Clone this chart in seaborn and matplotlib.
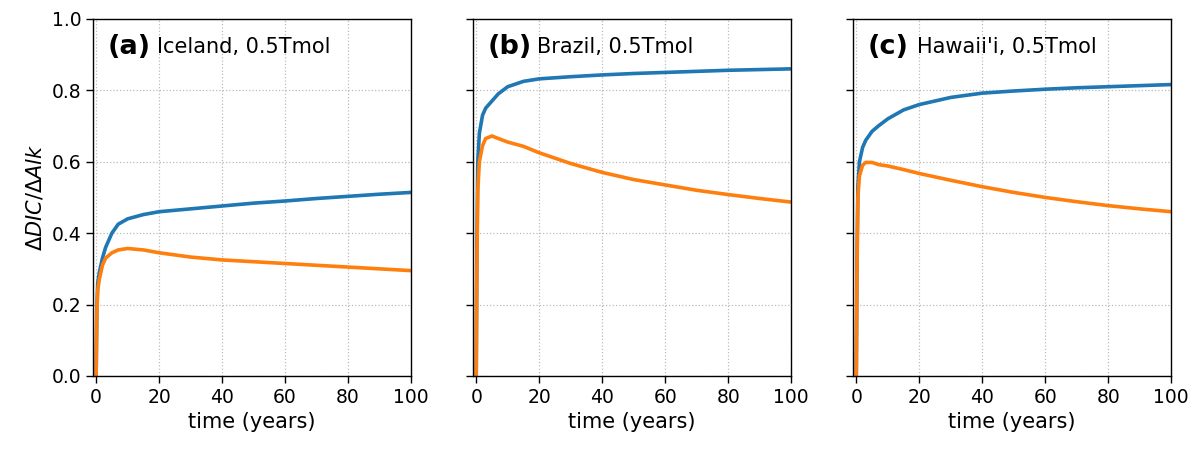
import numpy as np
import pandas as pd
import matplotlib
matplotlib.use("Agg")
import matplotlib.pyplot as plt
import seaborn as sns

# time axis (years), sampled more densely at the start
time = [0, 0.2, 0.5, 1, 2, 3, 5, 7, 10, 15, 20, 30, 40, 50, 60, 70, 80, 90, 100]

iceland_blue = [0, 0.18, 0.26, 0.29, 0.33, 0.36, 0.40, 0.425, 0.44, 0.452, 0.46,
                0.468, 0.476, 0.484, 0.49, 0.497, 0.503, 0.509, 0.514]
iceland_orange = [0, 0.17, 0.24, 0.27, 0.31, 0.33, 0.345, 0.353, 0.357, 0.353, 0.345,
                  0.333, 0.325, 0.32, 0.315, 0.31, 0.305, 0.30, 0.295]

brazil_blue = [0, 0.35, 0.60, 0.68, 0.73, 0.75, 0.77, 0.79, 0.81, 0.825, 0.832,
               0.838, 0.843, 0.847, 0.85, 0.853, 0.856, 0.858, 0.86]
brazil_orange = [0, 0.30, 0.52, 0.60, 0.645, 0.665, 0.672, 0.665, 0.655, 0.643, 0.625,
                 0.595, 0.57, 0.55, 0.535, 0.52, 0.508, 0.497, 0.487]

hawaii_blue = [0, 0.30, 0.53, 0.60, 0.64, 0.66, 0.685, 0.70, 0.72, 0.745, 0.76,
               0.78, 0.792, 0.798, 0.803, 0.807, 0.81, 0.813, 0.816]
hawaii_orange = [0, 0.28, 0.50, 0.56, 0.59, 0.598, 0.598, 0.592, 0.588, 0.578, 0.567,
                 0.548, 0.53, 0.514, 0.50, 0.488, 0.477, 0.468, 0.46]

panel_tags = ["(a)", "(b)", "(c)"]
panel_names = ["Iceland, 0.5Tmol", "Brazil, 0.5Tmol", "Hawaii'i, 0.5Tmol"]
blue_series = [iceland_blue, brazil_blue, hawaii_blue]
orange_series = [iceland_orange, brazil_orange, hawaii_orange]

sns.set_style("ticks")
plt.rcParams["font.family"] = ["DejaVu Sans"]
plt.rcParams["text.color"] = "black"
plt.rcParams["axes.labelcolor"] = "black"
plt.rcParams["xtick.color"] = "black"
plt.rcParams["ytick.color"] = "black"

fig, axes = plt.subplots(1, 3, figsize=(12, 4.49), dpi=100, sharey=True)
fig.subplots_adjust(left=0.0775, right=0.976, bottom=0.1626, top=0.958, wspace=0.195)

for ax, tag, name, blue, orange in zip(axes, panel_tags, panel_names,
                                       blue_series, orange_series):
    df = pd.DataFrame({"time": time, "blue": blue, "orange": orange})
    sns.lineplot(data=df, x="time", y="blue", ax=ax, color="#1f77b4", lw=2.6)
    sns.lineplot(data=df, x="time", y="orange", ax=ax, color="#ff7f0e", lw=2.6)

    ax.set_xlim(-1, 100)
    ax.set_ylim(0, 1)
    ax.set_xticks([0, 20, 40, 60, 80, 100])
    ax.set_yticks([0, 0.2, 0.4, 0.6, 0.8, 1.0])
    ax.grid(True, linestyle=":", color="#bbbbbb", lw=0.9)
    ax.tick_params(labelsize=13.5, length=5, width=1)
    ax.set_xlabel("time (years)", fontsize=15)
    ax.set_ylabel("")
    for sp in ax.spines.values():
        sp.set_color("black")
        sp.set_linewidth(1)

    ax.text(0.045, 0.921, tag, transform=ax.transAxes, fontsize=19.5,
            fontweight="bold", va="center", ha="left")
    ax.text(0.2, 0.921, name, transform=ax.transAxes, fontsize=15,
            va="center", ha="left")

axes[0].set_ylabel(r"$\Delta DIC/\Delta Alk$", fontsize=15)

plt.savefig("out.png", dpi=100)
